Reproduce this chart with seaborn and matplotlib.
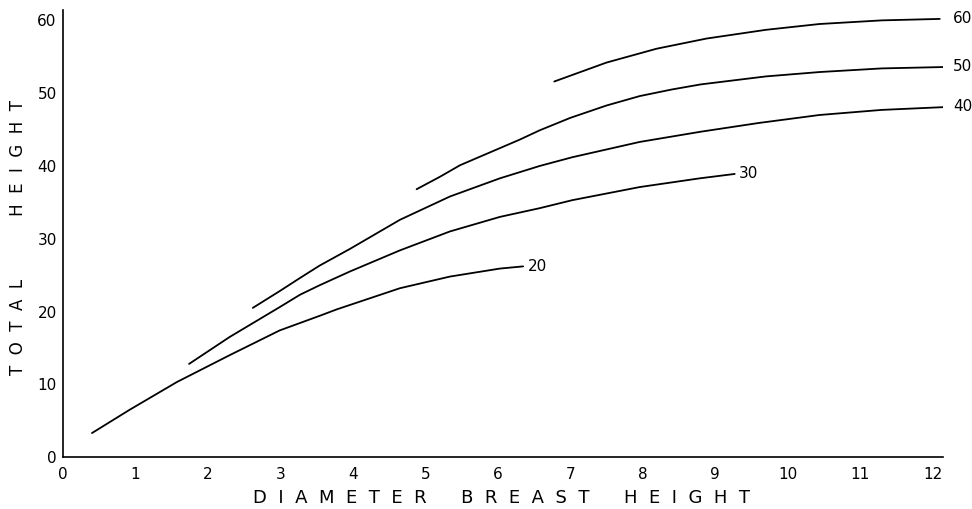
import matplotlib
matplotlib.use("Agg")
import matplotlib.pyplot as plt
import pandas as pd
import seaborn as sns

# Site-index curves: total height against diameter at breast height
si20_dbh = [0.40, 0.92, 1.57, 2.30, 2.99, 3.54, 3.78, 4.65, 5.34, 6.03, 6.35]
si20_ht = [3.3, 6.5, 10.3, 14.0, 17.4, 19.4, 20.3, 23.2, 24.8, 25.9, 26.2]

si30_dbh = [1.74, 2.30, 2.99, 3.27, 3.54, 3.96, 4.65, 5.34, 6.03, 6.58,
            7.03, 7.96, 8.79, 9.27]
si30_ht = [12.8, 16.5, 20.6, 22.3, 23.6, 25.5, 28.4, 31.0, 33.0, 34.2,
           35.3, 37.1, 38.3, 38.9]

si40_dbh = [2.62, 2.99, 3.27, 3.54, 3.96, 4.65, 5.34, 6.03, 6.58, 7.03,
            7.96, 8.80, 9.60, 10.44, 11.30, 12.20]
si40_ht = [20.5, 22.8, 24.6, 26.3, 28.6, 32.6, 35.8, 38.3, 40.0, 41.2,
           43.3, 44.7, 45.9, 47.0, 47.7, 48.1]

si50_dbh = [4.88, 5.20, 5.48, 6.30, 6.58, 7.00, 7.50, 7.96, 8.40, 8.80,
            9.70, 10.44, 11.30, 12.20]
si50_ht = [36.8, 38.5, 40.1, 43.6, 44.9, 46.6, 48.3, 49.6, 50.5, 51.2,
           52.3, 52.9, 53.4, 53.6]

si60_dbh = [6.78, 7.50, 8.19, 8.88, 9.70, 10.44, 11.30, 12.10]
si60_ht = [51.6, 54.2, 56.1, 57.5, 58.7, 59.5, 60.0, 60.2]

site_index = [20, 30, 40, 50, 60]
x_ticks = list(range(0, 13))
y_ticks = list(range(0, 61, 10))

frames = []
for si, xs, ys in zip(site_index,
                      [si20_dbh, si30_dbh, si40_dbh, si50_dbh, si60_dbh],
                      [si20_ht, si30_ht, si40_ht, si50_ht, si60_ht]):
    frames.append(pd.DataFrame({"dbh": xs, "height": ys, "site": si}))
df = pd.concat(frames, ignore_index=True)

sns.set_style("white")
plt.rcParams["font.family"] = ["DejaVu Sans"]

fig = plt.figure(figsize=(9.72, 5.09), dpi=100)
ax = fig.add_axes([0.0648, 0.102, 0.905, 0.878])

sns.lineplot(data=df, x="dbh", y="height", hue="site", units="site",
             estimator=None, sort=False, palette=["black"] * 5,
             linewidth=1.3, legend=False, ax=ax)

# curve labels at the right-hand end of each line
label_pos = {20: (6.42, si20_ht[-1]), 30: (9.33, si30_ht[-1]),
             40: (12.28, si40_ht[-1]), 50: (12.28, si50_ht[-1]),
             60: (12.28, si60_ht[-1])}
for si, (lx, ly) in label_pos.items():
    ax.text(lx, ly, str(si), ha="left", va="center", fontsize=11,
            color="black", clip_on=False)

ax.set_xlim(0, 12.14)
ax.set_ylim(0, 61.4)
ax.set_xticks(x_ticks)
ax.set_yticks(y_ticks)
ax.set_xticklabels([str(t) for t in x_ticks], fontsize=11)
ax.set_yticklabels([str(t) for t in y_ticks], fontsize=11)
ax.tick_params(axis="x", direction="inout", length=9, width=1.0, pad=3,
               colors="black")
ax.tick_params(axis="y", direction="inout", length=7, width=1.0, pad=1,
               colors="black")

for side in ("top", "right"):
    ax.spines[side].set_visible(False)
for side in ("left", "bottom"):
    ax.spines[side].set_color("black")
    ax.spines[side].set_linewidth(1.2)
ax.grid(False)
ax.set_xlabel("")
ax.set_ylabel("")


def spaced(words, gap):
    return (" " * gap).join("  ".join(w) for w in words)


fig.text(0.516, 0.022, spaced(["DIAMETER", "BREAST", "HEIGHT"], 6),
         ha="center", va="center", fontsize=13, color="black")
fig.text(0.019, 0.534, spaced(["TOTAL", "HEIGHT"], 12),
         ha="center", va="center", rotation=90, fontsize=12, color="black")

fig.savefig("out.png", dpi=100)
